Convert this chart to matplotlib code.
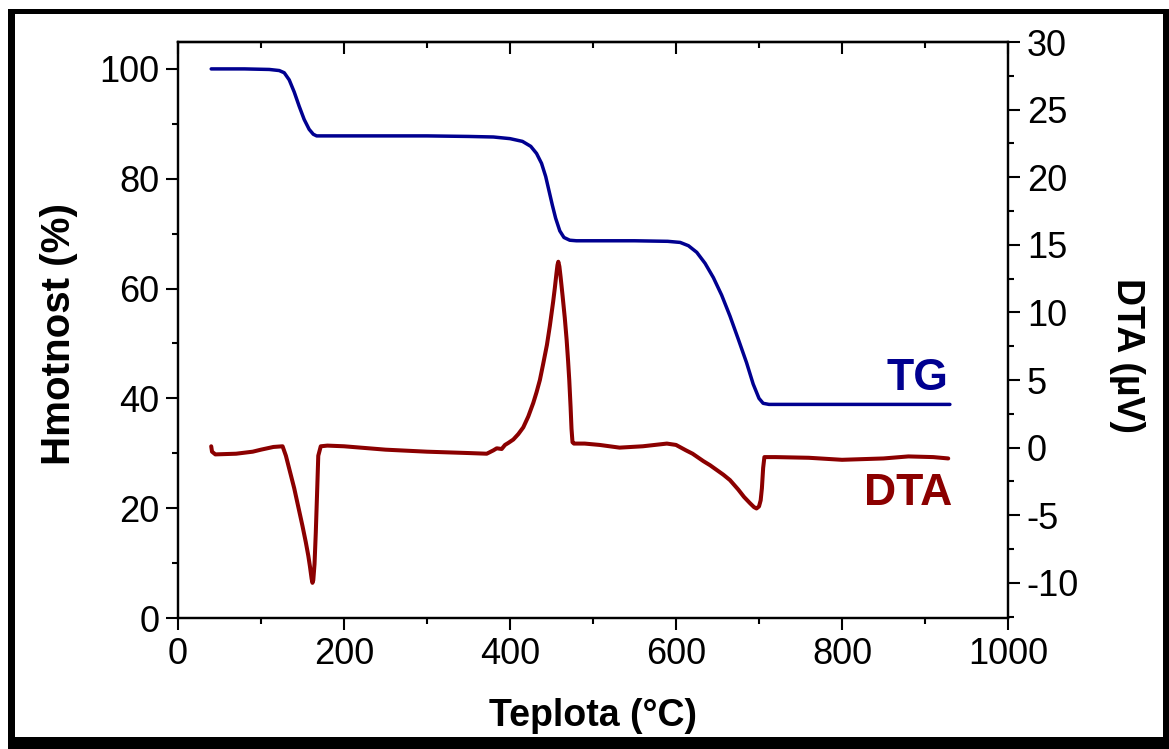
import matplotlib
matplotlib.use("Agg")
import matplotlib.pyplot as plt
from matplotlib.patches import Rectangle
from matplotlib.ticker import MultipleLocator

plt.rcParams['font.family'] = ['Liberation Sans', 'DejaVu Sans']
plt.rcParams['axes.unicode_minus'] = False

# Thermogravimetric curve: temperature (°C) vs. remaining mass (%)
tg_temp = [40, 80, 110, 122, 128, 134, 140, 146, 152, 158, 163, 167, 200, 300,
           350, 380, 400, 415, 425, 432, 438, 443, 447, 451, 455, 460, 465, 472,
           480, 550, 590, 605, 615, 625, 635, 645, 655, 665, 675, 685, 693, 700,
           705, 712, 750, 850, 930]
tg_mass = [100, 100, 99.9, 99.7, 99.3, 98.0, 95.8, 93.2, 90.8, 89.0, 88.1, 87.8,
           87.8, 87.8, 87.7, 87.6, 87.3, 86.8, 85.9, 84.6, 82.8, 80.4, 77.8, 75.2,
           72.8, 70.5, 69.3, 68.8, 68.7, 68.7, 68.6, 68.4, 67.8, 66.6, 64.6, 62.0,
           58.8, 55.0, 50.8, 46.5, 42.6, 40.0, 39.1, 38.9, 38.9, 38.9, 38.9]

# Differential thermal analysis signal: temperature (°C) vs. µV
dta_temp = [40, 41, 45, 70, 90, 100, 115, 126, 130, 135, 140, 145, 150, 154,
            157, 159, 161, 162, 163, 164.5, 166, 167.5, 169, 172, 180, 200, 250,
            300, 350, 372, 380, 384, 390, 394, 398, 404, 410, 416, 422, 428, 432,
            436, 440, 444.5, 448, 450, 452, 454, 456, 457.2, 458.2, 459.5, 461,
            463.4, 466, 468.2, 470, 471.4, 473, 474.1, 475.3, 477, 490, 508, 532,
            560, 589, 600, 612, 620, 633, 641, 649, 657, 665, 675, 682, 689, 694,
            697, 700, 702, 703.5, 705, 706.5, 710, 720, 760, 800, 850, 880, 910,
            928]
dta_uv = [0.1, -0.3, -0.5, -0.45, -0.3, -0.15, 0.05, 0.1, -0.6, -1.8, -3.0,
          -4.4, -5.8, -7.0, -8.0, -8.8, -9.7, -10.0, -9.8, -8.6, -6.3, -3.5,
          -0.6, 0.1, 0.15, 0.1, -0.15, -0.3, -0.4, -0.45, -0.2, -0.05, -0.1,
          0.2, 0.35, 0.6, 1.0, 1.5, 2.3, 3.3, 4.1, 5.0, 6.2, 7.6, 9.0, 9.9, 10.8,
          11.8, 12.9, 13.5, 13.75, 13.4, 12.6, 11.2, 9.6, 8.0, 6.4, 5.0, 3.0,
          1.4, 0.4, 0.3, 0.3, 0.2, 0.0, 0.1, 0.3, 0.2, -0.2, -0.45, -1.0, -1.3,
          -1.65, -2.0, -2.4, -3.1, -3.65, -4.1, -4.4, -4.5, -4.35, -3.9, -3.0,
          -1.5, -0.7, -0.7, -0.7, -0.75, -0.9, -0.8, -0.65, -0.7, -0.8]

tg_color = '#000090'
dta_color = '#8B0000'

W, H = 1169, 749
fig = plt.figure(figsize=(W / 100, H / 100), dpi=100)

# Black frame with a drop shadow around the whole graphic
bg = fig.add_axes([0, 0, 1, 1], zorder=-10)
bg.set_xlim(0, W)
bg.set_ylim(H, 0)
bg.axis('off')
bg.add_patch(Rectangle((8, 9), W - 8, H - 9, facecolor='black', edgecolor='none'))
bg.add_patch(Rectangle((15, 14), 1163 - 15, 737 - 14, facecolor='white',
                       edgecolor='none'))

ax = fig.add_axes([178 / W, 1 - 618 / H, (1008 - 178) / W, (618 - 42) / H])
ax.set_facecolor('none')
ax2 = ax.twinx()

ax.plot(tg_temp, tg_mass, color=tg_color, lw=2.5, solid_capstyle='round',
        solid_joinstyle='round')
ax2.plot(dta_temp, dta_uv, color=dta_color, lw=2.9, solid_capstyle='round',
         solid_joinstyle='round')

ax.set_xlim(0, 1000)
ax.set_ylim(0, 104.9)
ax2.set_ylim(-12.6, 30)

tick_fs = 26
for a in (ax, ax2):
    for s in a.spines.values():
        s.set_linewidth(1.6)

ax.xaxis.set_major_locator(MultipleLocator(200))
ax.xaxis.set_minor_locator(MultipleLocator(100))
ax.yaxis.set_major_locator(MultipleLocator(20))
ax.yaxis.set_minor_locator(MultipleLocator(10))
ax2.yaxis.set_major_locator(MultipleLocator(5))
ax2.yaxis.set_minor_locator(MultipleLocator(2.5))

ax.tick_params(axis='both', which='major', direction='out', length=8.5,
               width=1.5, labelsize=tick_fs, pad=5, top=False, right=False)
ax.tick_params(axis='both', which='minor', direction='out', length=4.5,
               width=1.5, top=False, right=False)
ax2.tick_params(axis='y', which='major', direction='out', length=8.5,
                width=1.5, labelsize=tick_fs, pad=5)
ax2.tick_params(axis='y', which='minor', direction='out', length=4.5, width=1.5)

# Top axis carries inward ticks only
top = ax.secondary_xaxis('top')
top.xaxis.set_major_locator(MultipleLocator(200))
top.xaxis.set_minor_locator(MultipleLocator(100))
top.tick_params(which='major', direction='in', length=8.5, width=1.5,
                labeltop=False)
top.tick_params(which='minor', direction='in', length=4.5, width=1.5)
top.spines['top'].set_linewidth(1.6)

fig.text(593 / W, 1 - 716 / H, 'Teplota (°C)', ha='center', va='center',
         fontsize=27, fontweight='bold')
fig.text(59 / W, 1 - 334 / H, 'Hmotnost (%)', ha='center', va='center',
         rotation=90, fontsize=29, fontweight='bold')
fig.text(1127 / W, 1 - 355 / H, 'DTA (µV)', ha='center', va='center',
         rotation=270, fontsize=27, fontweight='bold')

ax.text(928, 41.6, 'TG', color=tg_color, fontsize=32, fontweight='bold',
        ha='right', va='baseline')
ax2.text(933, -4.25, 'DTA', color=dta_color, fontsize=32, fontweight='bold',
         ha='right', va='baseline')

fig.savefig('out.png', dpi=100)
